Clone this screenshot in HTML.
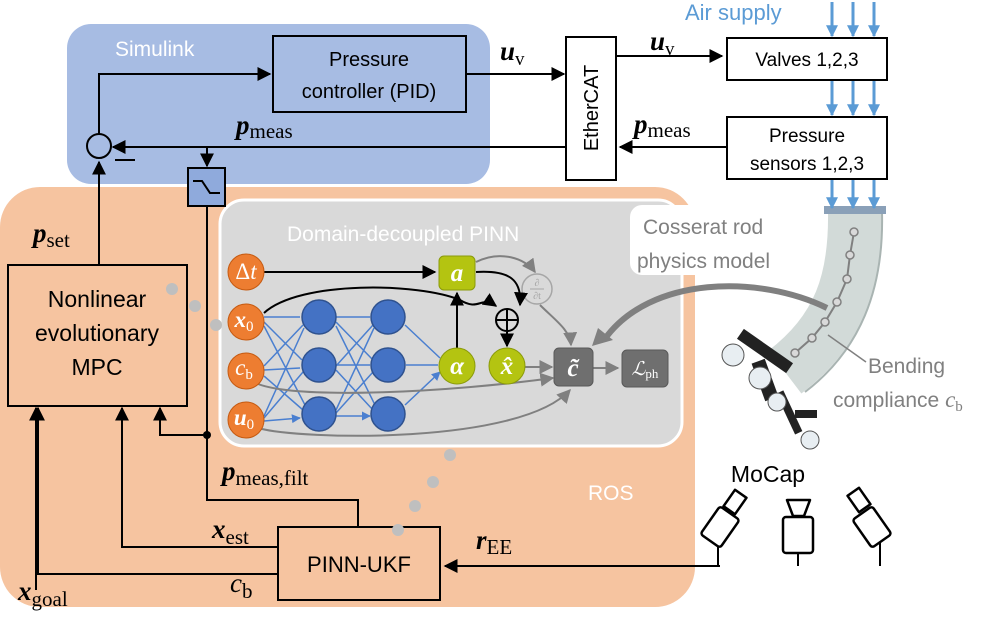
<!DOCTYPE html>
<html><head><style>body{margin:0;background:#fff}svg{display:block;font-family:"Liberation Sans",sans-serif}</style></head><body>
<svg width="997" height="618" viewBox="0 0 997 618" xmlns="http://www.w3.org/2000/svg">
<defs>
<marker id="ab" viewBox="0 0 10 10" refX="9" refY="5" markerWidth="7" markerHeight="7" orient="auto-start-reverse"><path d="M0,0L10,5L0,10z" fill="#000"/></marker>
<marker id="ag" viewBox="0 0 10 10" refX="9" refY="5" markerWidth="7" markerHeight="7" orient="auto"><path d="M0,0L10,5L0,10z" fill="#808080"/></marker>
<marker id="abl" viewBox="0 0 10 10" refX="9" refY="5" markerWidth="6" markerHeight="6" orient="auto"><path d="M0,0L10,5L0,10z" fill="#4a7fd0"/></marker>
<marker id="asky" viewBox="0 0 10 10" refX="9" refY="5" markerWidth="4" markerHeight="4" orient="auto"><path d="M0,0L10,5L0,10z" fill="#5b9bd5"/></marker>
</defs>
<rect x="0" y="187" width="695" height="420" rx="40" fill="#f6c4a0"/>
<rect x="67" y="24" width="423" height="160" rx="24" fill="#a7bce3"/>
<text x="115" y="56" font-size="21" fill="#fff">Simulink</text>
<rect x="220" y="200" width="462" height="246" rx="24" fill="#d9d9d9" stroke="#fff" stroke-width="3"/>
<text x="287" y="241" font-size="21" fill="#fff">Domain-decoupled PINN</text>
<rect x="630" y="205" width="172" height="70" rx="12" fill="#fff"/>
<text x="643" y="234" font-size="21" fill="#808080">Cosserat rod</text>
<text x="637" y="268" font-size="21" fill="#808080">physics model</text>
<text x="588" y="500" font-size="21" fill="#fff">ROS</text>

<rect x="273" y="36" width="193" height="76" fill="none" stroke="#000" stroke-width="2"/>
<text x="369" y="66" font-size="20" text-anchor="middle">Pressure</text>
<text x="369" y="98" font-size="20" text-anchor="middle">controller (PID)</text>
<rect x="566" y="37" width="50" height="143" fill="#fff" stroke="#000" stroke-width="2"/>
<text transform="translate(598,108) rotate(-90)" font-size="20" text-anchor="middle">EtherCAT</text>
<rect x="727" y="38" width="160" height="42" fill="#fff" stroke="#000" stroke-width="2"/>
<text x="807" y="66" font-size="19" text-anchor="middle">Valves 1,2,3</text>
<rect x="727" y="117" width="160" height="62" fill="#fff" stroke="#000" stroke-width="2"/>
<text x="807" y="142" font-size="19" text-anchor="middle">Pressure</text>
<text x="807" y="170" font-size="19" text-anchor="middle">sensors 1,2,3</text>
<text x="685" y="20" font-size="22" fill="#5b9bd5">Air supply</text>

<path d="M855,212C856,280 840,330 785,372" stroke="#d2dad8" stroke-width="54" fill="none"/>
<path d="M882,212C884,290 860,350 805,392" stroke="#a9b4b2" stroke-width="2" fill="none"/>
<rect x="824" y="206" width="62" height="8" fill="#8aa0b8"/>
<g stroke="#5b9bd5" stroke-width="3" marker-end="url(#asky)">
<line x1="832" y1="2" x2="832" y2="36"/><line x1="853" y1="2" x2="853" y2="36"/><line x1="874" y1="2" x2="874" y2="36"/>
<line x1="832" y1="81" x2="832" y2="115"/><line x1="853" y1="81" x2="853" y2="115"/><line x1="874" y1="81" x2="874" y2="115"/>
<line x1="832" y1="180" x2="832" y2="208"/><line x1="853" y1="180" x2="853" y2="208"/><line x1="874" y1="180" x2="874" y2="208"/>
</g>
<path d="M854,232L850,255L847,279L837,302L825,322L812,338L795,353" stroke="#808080" stroke-width="2" fill="none"/>
<g fill="#d9d9d9" stroke="#808080" stroke-width="1.5"><circle cx="854" cy="232" r="4"/><circle cx="850" cy="255" r="4"/><circle cx="847" cy="279" r="4"/><circle cx="837" cy="302" r="4"/><circle cx="825" cy="322" r="4"/><circle cx="812" cy="338" r="4"/><circle cx="795" cy="353" r="4"/></g>
<path d="M828,335L866,362" stroke="#808080" stroke-width="1.5"/>
<text x="868" y="373" font-size="21" fill="#808080">Bending</text>
<text x="833" y="407" font-size="21" fill="#808080">compliance <tspan font-family="Liberation Serif,serif" font-style="italic" font-size="23">c</tspan><tspan font-family="Liberation Serif,serif" font-size="15" dy="4">b</tspan></text>
<g fill="#222">
<rect x="735" y="345" width="60" height="12" transform="rotate(35 765 351)"/>
<rect x="758" y="360" width="14" height="40" transform="rotate(-20 765 380)"/>
<rect x="785" y="390" width="8" height="45" transform="rotate(-25 789 412)"/>
<rect x="795" y="410" width="22" height="8"/>
</g>
<g fill="#e8eef2" stroke="#555"><circle cx="733" cy="355" r="11"/><circle cx="760" cy="378" r="11"/><circle cx="777" cy="402" r="9"/><circle cx="810" cy="440" r="9"/></g>

<g stroke="#000" stroke-width="2" fill="none">
<path d="M466,74H564" marker-end="url(#ab)"/>
<path d="M616,56H722" marker-end="url(#ab)"/>
<path d="M727,147H620" marker-end="url(#ab)"/>
<path d="M566,147H113" marker-end="url(#ab)"/>
<path d="M99,134V74H270" marker-end="url(#ab)"/>
<circle cx="99" cy="146" r="12"/>
<path d="M115,160H135"/>
<path d="M207,147V166" marker-end="url(#ab)"/>
<path d="M99,265V162" marker-end="url(#ab)"/>
<path d="M207,206V435H160V408" marker-end="url(#ab)"/>
<path d="M207,435V500H358V527"/>
<path d="M278,547H122V408" marker-end="url(#ab)"/>
<path d="M278,574H38V408" marker-end="url(#ab)"/>
<path d="M36,590V408" marker-end="url(#ab)"/>
<path d="M720,566H445" marker-end="url(#ab)"/>
<path d="M718,566V532M798,566V553M880,566V532"/>
</g>
<circle cx="207" cy="435" r="4"/>
<rect x="188" y="168" width="37" height="38" fill="#8faadc" stroke="#000" stroke-width="2"/>
<path d="M193,181H202L210,193H220" stroke="#000" stroke-width="2" fill="none"/>
<rect x="8" y="265" width="179" height="141" fill="none" stroke="#000" stroke-width="2"/>
<text x="97" y="307" font-size="23" text-anchor="middle">Nonlinear</text>
<text x="97" y="341" font-size="23" text-anchor="middle">evolutionary</text>
<text x="97" y="375" font-size="23" text-anchor="middle">MPC</text>
<rect x="278" y="527" width="162" height="73" fill="none" stroke="#000" stroke-width="2"/>
<text x="359" y="572" font-size="22" text-anchor="middle">PINN-UKF</text>
<g font-family="Liberation Serif,serif" font-style="italic" font-weight="bold" font-size="27">
<text x="500" y="60">u<tspan font-size="19" font-weight="normal" font-style="normal" dy="5">v</tspan></text>
<text x="650" y="50">u<tspan font-size="19" font-weight="normal" font-style="normal" dy="5">v</tspan></text>
<text x="236" y="134">p<tspan font-size="21" font-weight="normal" font-style="normal" dy="4">meas</tspan></text>
<text x="634" y="133">p<tspan font-size="21" font-weight="normal" font-style="normal" dy="4">meas</tspan></text>
<text x="33" y="242">p<tspan font-size="21" font-weight="normal" font-style="normal" dy="5">set</tspan></text>
<text x="222" y="480">p<tspan font-size="21" font-weight="normal" font-style="normal" dy="5">meas,filt</tspan></text>
<text x="212" y="538">x<tspan font-size="21" font-weight="normal" font-style="normal" dy="6">est</tspan></text>
<text x="230" y="592" font-weight="normal">c<tspan font-size="21" font-style="normal" dy="6">b</tspan></text>
<text x="18" y="600">x<tspan font-size="21" font-weight="normal" font-style="normal" dy="6">goal</tspan></text>
<text x="476" y="549">r<tspan font-size="21" font-weight="normal" font-style="normal" dy="5">EE</tspan></text>
</g>
<g stroke="#4a7fd0" stroke-width="1.5" marker-end="url(#abl)">
<path d="M264,317L300,317M264,322L302,360M264,326L305,405M264,366L303,325M264,370L300,368M264,376L303,410M264,416L304,328M264,418L303,372M264,421L300,418"/>
<path d="M336,317L370,317M336,322L373,360M336,326L375,405M336,366L373,325M336,365L370,365M336,370L373,410M336,410L374,328M336,413L373,372M336,416L370,416"/>
<path d="M405,325L440,358M406,365L438,365M405,405L440,372"/>
</g>
<g fill="#4472c4" stroke="#2f528f" stroke-width="1.5">
<circle cx="319" cy="317" r="17"/><circle cx="319" cy="365" r="17"/><circle cx="319" cy="414" r="17"/>
<circle cx="388" cy="317" r="17"/><circle cx="388" cy="365" r="17"/><circle cx="388" cy="414" r="17"/>
</g>
<g stroke="#808080" stroke-width="2" fill="none">
<path d="M258,384C300,400 450,392 553,378" marker-end="url(#ag)"/>
<path d="M258,428C300,440 520,445 570,390" marker-end="url(#ag)"/>
<path d="M524,367H552" marker-end="url(#ag)"/>
<path d="M593,368H618" marker-end="url(#ag)"/>
<path d="M476,262C500,250 525,258 535,272" marker-end="url(#ag)"/>
<path d="M540,305C555,320 570,330 571,345" marker-end="url(#ag)"/>
</g>
<path d="M827,308C760,275 650,275 604,340" stroke="#808080" stroke-width="6" fill="none"/>
<path d="M592,346L598,328L613,340z" fill="#808080"/>
<circle cx="537" cy="289" r="15" fill="none" stroke="#a6a6a6" stroke-width="1.5"/>
<text x="537" y="286" font-size="10" fill="#a6a6a6" text-anchor="middle" font-family="Liberation Serif,serif">∂</text>
<line x1="530" y1="289" x2="544" y2="289" stroke="#a6a6a6"/>
<text x="537" y="299" font-size="10" fill="#a6a6a6" text-anchor="middle" font-family="Liberation Serif,serif">∂t</text>
<g stroke="#000" stroke-width="2" fill="none">
<path d="M264,272H435" marker-end="url(#ab)"/>
<path d="M457,348V293" marker-end="url(#ab)"/>
<path d="M476,272C510,270 522,280 520,305" marker-end="url(#ab)"/>
<path d="M264,313C300,280 420,283 460,300C480,312 480,295 496,306" marker-end="url(#ab)"/>
<path d="M507,332V346" marker-end="url(#ab)"/>
</g>
<circle cx="507" cy="320" r="11" fill="none" stroke="#000" stroke-width="2"/>
<path d="M496,320H518M507,309V331" stroke="#000" stroke-width="2"/>
<g fill="#ed7d31" stroke="#c55a11">
<circle cx="246" cy="272" r="18"/><circle cx="246" cy="322" r="18"/><circle cx="246" cy="371" r="18"/><circle cx="246" cy="420" r="18"/>
</g>
<g fill="#fff" font-family="Liberation Serif,serif" font-size="23" font-style="italic" text-anchor="middle">
<text x="246" y="279" font-style="normal">Δ<tspan font-style="italic">t</tspan></text>
<text x="244" y="327" font-weight="bold">x<tspan font-size="15" font-style="normal" font-weight="normal" dy="4">0</tspan></text>
<text x="244" y="375">c<tspan font-size="15" font-style="normal" dy="4">b</tspan></text>
<text x="244" y="425" font-weight="bold">u<tspan font-size="15" font-style="normal" font-weight="normal" dy="4">0</tspan></text>
</g>
<rect x="439" y="256" width="36" height="34" rx="5" fill="#b4c411" stroke="#8a9a0a"/>
<circle cx="457" cy="366" r="18" fill="#b4c411" stroke="#8a9a0a"/>
<circle cx="507" cy="366" r="18" fill="#b4c411" stroke="#8a9a0a"/>
<rect x="554" y="348" width="39" height="38" rx="5" fill="#6f6f6f" stroke="#595959"/>
<rect x="622" y="350" width="46" height="37" rx="5" fill="#6f6f6f" stroke="#595959"/>
<g fill="#fff" font-family="Liberation Serif,serif" font-size="25" font-style="italic" font-weight="bold" text-anchor="middle">
<text x="457" y="281">a</text><text x="457" y="374">α</text><text x="507" y="374">x̂</text><text x="573" y="376">c̃</text>
<text x="645" y="375" font-size="19" font-weight="normal">ℒ<tspan font-size="13" font-style="normal" dy="3">ph</tspan></text>
</g>
<g fill="#bfbfbf"><circle cx="172" cy="289" r="6"/><circle cx="195" cy="306" r="6"/><circle cx="216" cy="325" r="6"/>
<circle cx="450" cy="455" r="6"/><circle cx="433" cy="482" r="6"/><circle cx="415" cy="506" r="6"/><circle cx="398" cy="530" r="6"/></g>
<text x="768" y="482" font-size="23" text-anchor="middle">MoCap</text>
<g stroke="#000" stroke-width="2.5" fill="#fff" stroke-linejoin="round">
<rect x="708" y="510" width="24" height="34" rx="3" transform="rotate(35 720 527)"/>
<rect x="728" y="492" width="14" height="20" transform="rotate(35 735 502)"/>
<rect x="783" y="517" width="30" height="36" rx="3"/>
<path d="M787,500H810L804,516H793Z"/>
<rect x="860" y="510" width="24" height="34" rx="3" transform="rotate(-35 872 527)"/>
<rect x="852" y="490" width="14" height="20" transform="rotate(-35 859 500)"/>
</g>
</svg>
</body></html>
